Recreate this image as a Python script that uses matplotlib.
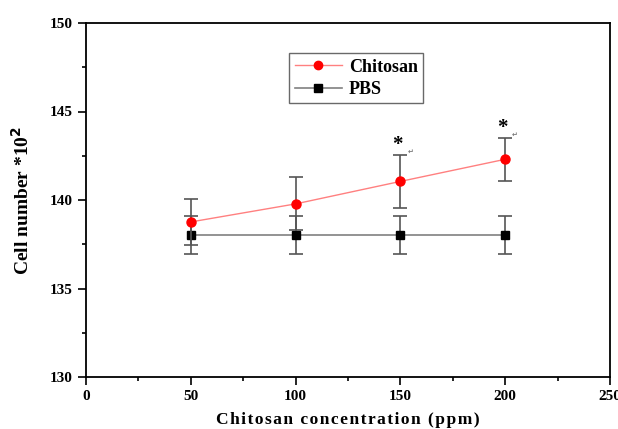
import matplotlib
matplotlib.use("Agg")
import matplotlib.pyplot as plt
from matplotlib.ticker import MultipleLocator
from matplotlib.lines import Line2D

conc = [50, 100, 150, 200]
chitosan = [138.76, 139.78, 141.05, 142.3]
chitosan_err = [1.3, 1.5, 1.5, 1.2]
pbs = [138.0, 138.0, 138.0, 138.0]
pbs_err = [1.07, 1.07, 1.07, 1.07]
sig_conc = [150, 200]

plt.rcParams['font.family'] = ['Liberation Serif', 'DejaVu Serif']
plt.rcParams['font.weight'] = 'bold'

fig = plt.figure(figsize=(6.18, 4.29), dpi=100)
ax = fig.add_axes([86/618, 1-377/429, (610-86)/618, (377-23)/429])

ax.errorbar(conc, pbs, yerr=pbs_err, color='#808080', lw=1.2, marker='s', ms=6,
            mfc='black', mec='black', capsize=5, capthick=1.2, ecolor='#555555',
            elinewidth=1.2, zorder=2)
ax.errorbar(conc, chitosan, yerr=chitosan_err, color='#ff8080', lw=1.0, marker='o', ms=6.5,
            mfc='red', mec='red', capsize=5, capthick=1.2, ecolor='#555555',
            elinewidth=1.2, zorder=3)

for c in sig_conc:
    i = conc.index(c)
    top = chitosan[i] + chitosan_err[i]
    ax.annotate('*', (c, top), xytext=(-2, 0), textcoords='offset points',
                ha='center', va='bottom', fontsize=15, fontweight='bold')
    ax.annotate('\u21b5', (c, top), xytext=(7, 0), textcoords='offset points',
                ha='center', va='bottom', fontsize=5, color='#777777',
                family='DejaVu Sans')

ax.set_xlim(0, 250)
ax.set_ylim(130, 150)
ax.xaxis.set_major_locator(MultipleLocator(50))
ax.xaxis.set_minor_locator(MultipleLocator(25))
ax.yaxis.set_major_locator(MultipleLocator(5))
ax.yaxis.set_minor_locator(MultipleLocator(2.5))
ax.tick_params(which='major', direction='out', length=6, width=1.2, labelsize=11,
               top=False, right=False)
ax.tick_params(which='minor', direction='out', length=3, width=1.2,
               top=False, right=False)
for lab in ax.get_xticklabels() + ax.get_yticklabels():
    lab.set_fontweight('bold')
for s in ax.spines.values():
    s.set_linewidth(1.3)

xl = 'Chitosan concentration (ppm)'
ax.set_xlabel('\u200a'.join(xl), fontsize=12.5, fontweight='bold', labelpad=6)
ax.set_ylabel('Cell number *10$^\\mathbf{2}$', fontsize=14, fontweight='bold', labelpad=12)

handles = [
    Line2D([], [], color='#ff8080', lw=1.0, marker='o', ms=6, mfc='red', mec='red'),
    Line2D([], [], color='#808080', lw=1.2, marker='s', ms=5.5, mfc='black', mec='black'),
]
leg = ax.legend(handles, ['Chitosan', 'PBS'], loc='upper left',
                bbox_to_anchor=(0.388, 0.915), borderaxespad=0,
                frameon=True, fancybox=False, edgecolor='#444444',
                prop={'weight': 'bold', 'size': 13}, handlelength=2.6,
                borderpad=0.3, labelspacing=0.3, handletextpad=0.4)
leg.get_frame().set_linewidth(1.0)

fig.savefig('out.png', dpi=100)
